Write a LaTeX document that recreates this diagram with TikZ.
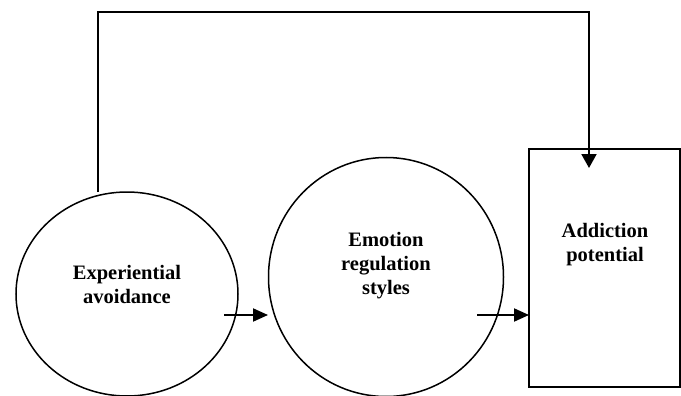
\documentclass[tikz,border=0pt]{standalone}
\usepackage{fontspec}
\setmainfont{Liberation Serif}
\usetikzlibrary{shapes.geometric,arrows.meta}
\tikzset{
  ell/.style={draw=black, line width=1.5pt, ellipse, inner sep=0pt},
  boxn/.style={draw=black, line width=1.8pt, rectangle, inner sep=0pt},
  lbl/.style={align=center, font=\fontsize{20.5}{24}\selectfont\bfseries, inner sep=0pt},
  conn/.style={line width=2pt, -{Triangle[length=15pt,width=13pt]}},
  topconn/.style={line width=2pt, -{Triangle[length=14pt,width=15pt]}}
}
\begin{document}
\begin{tikzpicture}[x=1pt,y=-1pt]
\useasboundingbox (0,0) rectangle (681,396);
\node[ell, minimum width=222pt, minimum height=204pt] (e1) at (127,294) {};
\node[ell, minimum width=235pt, minimum height=239pt] (e2) at (386,277) {};
\node[boxn, minimum width=151pt, minimum height=238pt] (box) at (604.5,268) {};
\node[lbl] (t1) at (127,284) {Experiential\\avoidance};
\node[lbl] (t2) at (386,266) {Emotion\\regulation\\styles};
\node[lbl] (t3) at (605,245) {Addiction\\potential};
\coordinate (a1s) at (224,315);
\coordinate (a1e) at (268,315);
\coordinate (a2s) at (477,315);
\coordinate (a2e) at (529,315);
\coordinate (u1) at (98,192);
\coordinate (u2) at (98,12);
\coordinate (u3) at (589,12);
\coordinate (u4) at (589,168);
\draw[conn] (a1s) -- (a1e);
\draw[conn] (a2s) -- (a2e);
\draw[topconn] (u1) -- (u2) -- (u3) -- (u4);
\end{tikzpicture}
\end{document}
